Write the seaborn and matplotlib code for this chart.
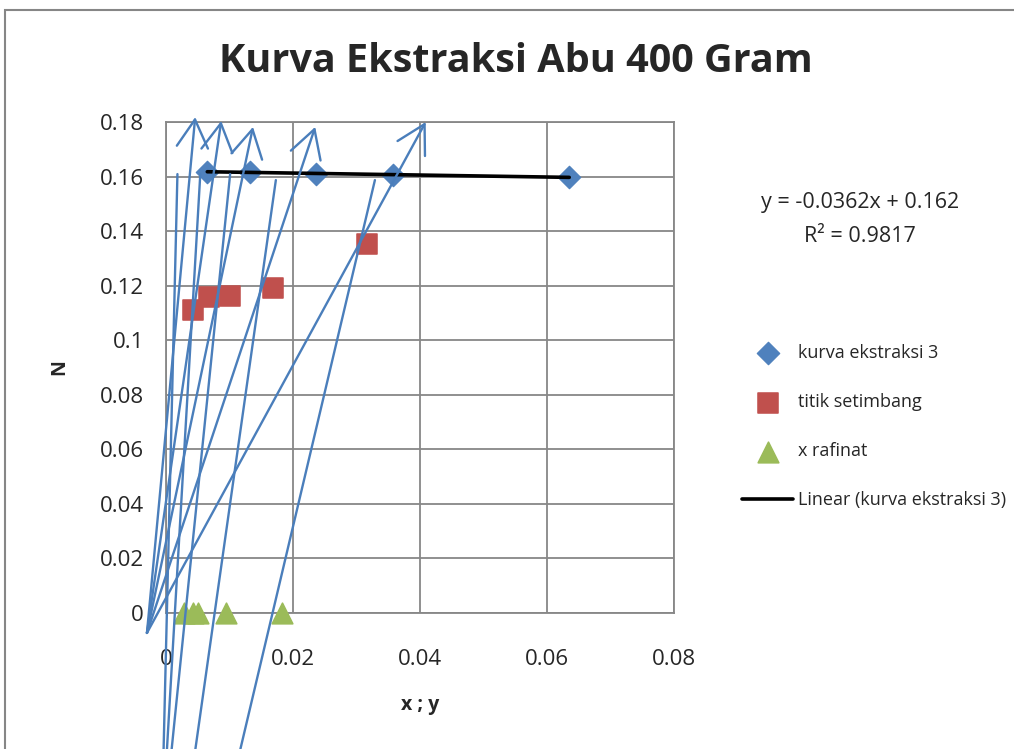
import numpy as np
import pandas as pd
import matplotlib
matplotlib.use("Agg")
import matplotlib.pyplot as plt
import seaborn as sns

# Data --------------------------------------------------------------------------
kurva_x = [0.0065, 0.0132, 0.0236, 0.0357, 0.0635]
kurva_y = [0.1618, 0.1615, 0.1611, 0.1607, 0.1597]

setimbang_x = [0.0043, 0.0068, 0.0101, 0.0169, 0.0317]
setimbang_y = [0.1112, 0.1160, 0.1163, 0.1193, 0.1354]

rafinat_x = [0.0028, 0.0042, 0.0050, 0.0094, 0.0183]
rafinat_y = [0.0, 0.0, 0.0, 0.0, 0.0]

# trendline as printed on the chart
slope = -0.0362
intercept = 0.162

# hand drawn arrows (start at a common point, heads at the top)
arrow_start = (-0.0030, -0.0073)
arrow_head_x = [0.0046, 0.0087, 0.0137, 0.0235, 0.0409]
arrow_head_y = [0.1818, 0.1804, 0.1782, 0.1782, 0.1800]

# hand drawn plain lines (top end -> bottom end, below the chart)
line_top_x = [0.0018, 0.0054, 0.0101, 0.0173, 0.0329]
line_top_y = [0.1609, 0.1609, 0.1609, 0.1587, 0.1587]
line_bot_x = [-0.0004, 0.0001, 0.0008, 0.0045, 0.0115]
line_bot_y = [-0.052, -0.052, -0.052, -0.052, -0.052]

blue = "#4F81BD"
red = "#C0504D"
green = "#9BBB59"
shape_blue = "#4A7EBB"
grid_gray = "#878787"

sns.set_style("white")
plt.rcParams['font.family'] = ['Open Sans', 'DejaVu Sans']

fig = plt.figure(figsize=(10.14, 7.49), dpi=100)
ax = fig.add_axes([166/1014, 1-613/749, (674-166)/1014, (613-122)/749])

df_k = pd.DataFrame({"x": kurva_x, "y": kurva_y})
df_s = pd.DataFrame({"x": setimbang_x, "y": setimbang_y})
df_r = pd.DataFrame({"x": rafinat_x, "y": rafinat_y})

sns.scatterplot(data=df_k, x="x", y="y", ax=ax, marker="D", s=130, color=blue,
                edgecolor=blue, label="kurva ekstraksi 3", zorder=3)
sns.scatterplot(data=df_s, x="x", y="y", ax=ax, marker="s", s=200, color=red,
                edgecolor=red, label="titik setimbang", zorder=3)
sns.scatterplot(data=df_r, x="x", y="y", ax=ax, marker="^", s=220, color=green,
                edgecolor=green, label="x rafinat", zorder=3, clip_on=False)

tx = np.array([min(kurva_x), max(kurva_x)])
df_t = pd.DataFrame({"x": tx, "y": slope * tx + intercept})
sns.lineplot(data=df_t, x="x", y="y", ax=ax, color="black", lw=2.6,
             label="Linear (kurva ekstraksi 3)", zorder=4)

# overlaid shapes
for hx, hy in zip(arrow_head_x, arrow_head_y):
    ax.annotate("", xy=(hx, hy), xytext=arrow_start, annotation_clip=False,
                arrowprops=dict(arrowstyle="->,head_length=0.8,head_width=0.45",
                                color=shape_blue, lw=1.7, mutation_scale=25,
                                shrinkA=0, shrinkB=0), zorder=6)
for x0, y0, x1, y1 in zip(line_top_x, line_top_y, line_bot_x, line_bot_y):
    ax.plot([x0, x1], [y0, y1], color=shape_blue, lw=1.7, clip_on=False, zorder=6)

ax.set_xlim(0, 0.08)
ax.set_ylim(0, 0.18)
ax.set_xticks([0, 0.02, 0.04, 0.06, 0.08])
ax.set_xticklabels(["0", "0.02", "0.04", "0.06", "0.08"])
ax.set_yticks(np.arange(0, 0.181, 0.02))
ax.set_yticklabels(["0", "0.02", "0.04", "0.06", "0.08", "0.1", "0.12", "0.14", "0.16", "0.18"])
ax.tick_params(axis="both", length=0, labelsize=16)
ax.tick_params(axis="x", pad=26)
ax.tick_params(axis="y", pad=16)
ax.grid(True, color=grid_gray, lw=1.3)
for sp in ax.spines.values():
    sp.set_color(grid_gray)
    sp.set_linewidth(1.3)

ax.set_xlabel("x ; y", fontsize=14, fontweight="bold", labelpad=18)
ax.set_ylabel("N", fontsize=14, fontweight="bold", labelpad=22)

fig.text(516/1014, 1-62/749, "Kurva Ekstraksi Abu 400 Gram", ha="center", va="center",
         fontsize=28.5, fontweight="bold")

fig.text(860/1014, 1-203/749, "y = -0.0362x + 0.162", ha="center", va="center", fontsize=15.5)
fig.text(860/1014, 1-236/749, "R² = 0.9817", ha="center", va="center", fontsize=15.5)

ax.legend(loc="upper left", bbox_to_anchor=(735/1014, 1-337/749),
          bbox_transform=fig.transFigure, frameon=False, fontsize=13,
          labelspacing=1.72, handlelength=2.8, handletextpad=0.3, borderaxespad=0)

# outer chart border
fig.add_artist(plt.Rectangle((5/1014, -0.1), 1.2, 1.1-10/749, transform=fig.transFigure,
                             fill=False, edgecolor="#868686", lw=1.5))

fig.savefig("out.png", dpi=100)
